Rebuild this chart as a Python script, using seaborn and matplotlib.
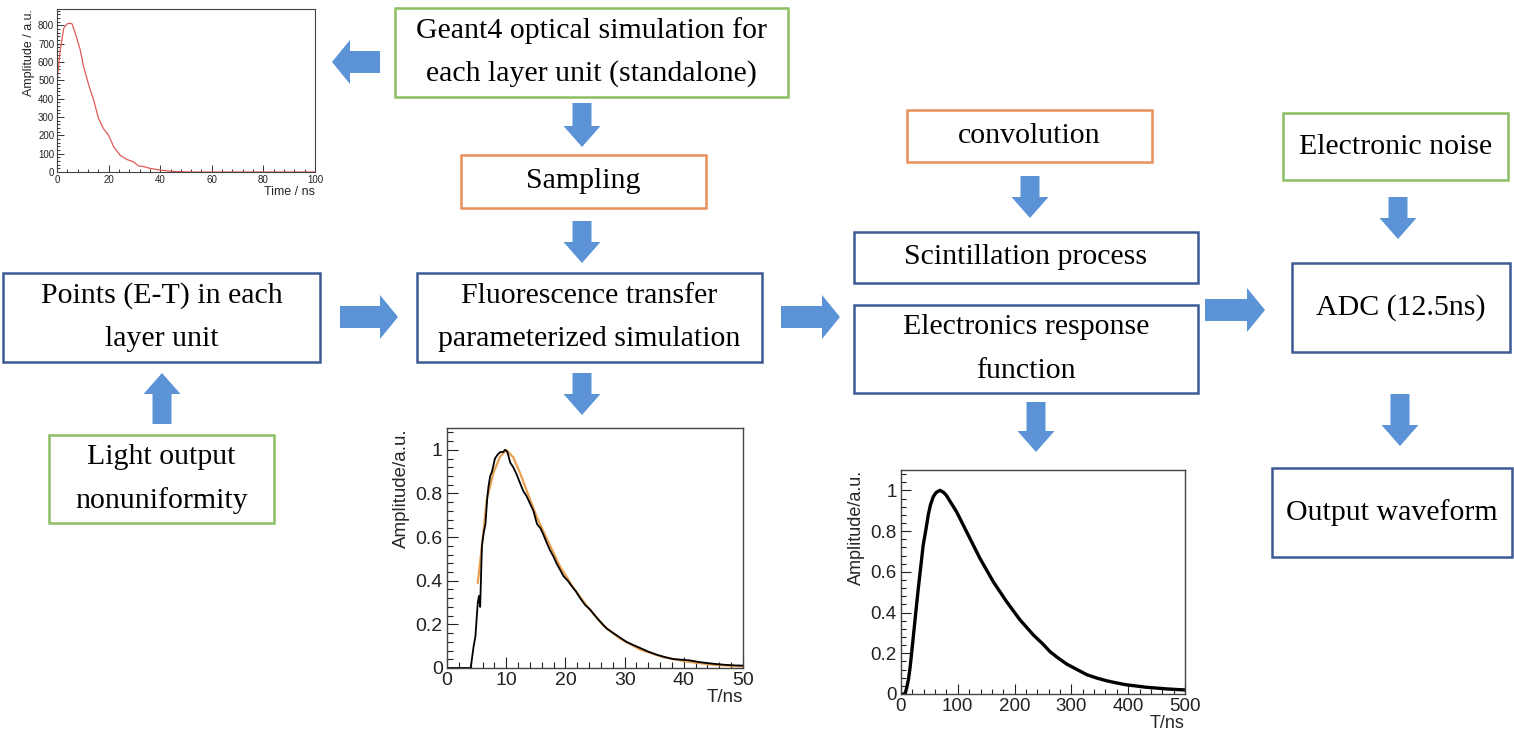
import numpy as np
import pandas as pd
import matplotlib
matplotlib.use("Agg")
import matplotlib.pyplot as plt
import seaborn as sns
from matplotlib.patches import Rectangle, Polygon
from matplotlib.ticker import AutoMinorLocator, MultipleLocator

# ---------------- data ----------------
# Geant4 optical simulation pulse (top-left inset)
g4_time = [0, 1.3, 2.6, 3.9, 5.0, 5.8, 7.1, 9.0, 10.3, 12.3, 14.2, 16.1, 18.0,
           20.0, 22.0, 24.5, 27.0, 29.7, 31.6, 33.5, 36.0, 40.0, 45.0, 50.0,
           52.0, 60.0, 80.0, 100.0]
g4_amp = [500, 667, 785, 809, 812, 809, 758, 667, 575, 475, 393, 292, 237,
          200, 137, 91, 69, 55, 33, 30, 20, 10, 3, 1, 0, 0, 0, 0]

# Fluorescence transfer parameterized simulation (middle inset)
fl_sim_time = [0, 4.0, 4.5, 4.8, 5.2, 5.4, 5.6, 5.9, 6.2, 6.5, 6.8, 7.0, 7.3,
               7.6, 8.1, 8.6, 9.0, 9.5, 9.8, 10.2, 10.7, 11.2, 11.8, 12.3,
               12.9, 13.4, 14.0, 14.6, 15.2, 15.8, 16.3, 16.9, 17.4, 18.0,
               18.5, 19.1, 19.7, 20.4, 21.1, 21.8, 22.5, 23.3, 24.2, 25.0,
               25.8, 27.0, 28.1, 29.2, 30.3, 31.5, 32.6, 34.0, 35.4, 36.8,
               38.2, 39.6, 41.0, 42.4, 43.8, 45.5, 47.2, 48.6, 50.0]
fl_sim_amp = [0, 0, 0.10, 0.145, 0.30, 0.33, 0.28, 0.56, 0.62, 0.66, 0.78,
              0.83, 0.88, 0.90, 0.96, 0.98, 0.99, 0.99, 1.0, 0.99, 0.94, 0.92,
              0.885, 0.85, 0.81, 0.79, 0.755, 0.72, 0.66, 0.64, 0.61, 0.57,
              0.54, 0.51, 0.48, 0.45, 0.42, 0.40, 0.374, 0.35, 0.32, 0.29,
              0.267, 0.24, 0.215, 0.18, 0.16, 0.14, 0.12, 0.105, 0.092, 0.075,
              0.061, 0.05, 0.041, 0.038, 0.035, 0.028, 0.023, 0.018, 0.014,
              0.012, 0.011]
fl_fit_time = [5.2, 5.9, 6.7, 7.9, 9.0, 10.0, 11.2, 12.4, 13.5, 15.2, 16.9,
               19.1, 21.3, 23.6, 26.4, 29.2, 32.6, 36.5, 40.4, 44.9, 50.0]
fl_fit_amp = [0.39, 0.56, 0.77, 0.90, 0.97, 1.0, 0.965, 0.89, 0.81, 0.69,
              0.59, 0.465, 0.37, 0.285, 0.195, 0.135, 0.085, 0.05, 0.03,
              0.015, 0.007]

# Electronics response function (right inset)
er_time = [0, 7, 10, 13, 16, 19, 22, 26, 30.5, 35, 39, 44, 48, 52, 57, 62,
           68.7, 75, 80, 90, 98, 115.6, 139, 162.5, 186, 209.5, 233, 250,
           262, 275, 291.7, 310, 327, 345, 362, 380, 397, 415, 432, 450, 468,
           485, 500]
er_amp = [0, 0, 0.03, 0.07, 0.13, 0.21, 0.29, 0.40, 0.52, 0.63, 0.73, 0.81,
          0.88, 0.93, 0.97, 0.99, 1.0, 0.99, 0.975, 0.93, 0.894, 0.796, 0.666,
          0.551, 0.453, 0.364, 0.29, 0.245, 0.209, 0.18, 0.147, 0.12, 0.095,
          0.078, 0.065, 0.054, 0.045, 0.039, 0.033, 0.029, 0.025, 0.022, 0.02]

# Flowchart labels
box_labels = {
    "geant4": ["Geant4 optical simulation for", "each layer unit (standalone)"],
    "sampling": ["Sampling"],
    "fluo": ["Fluorescence transfer", "parameterized simulation"],
    "points": ["Points (E-T) in each", "layer unit"],
    "light": ["Light output", "nonuniformity"],
    "conv": ["convolution"],
    "scint": ["Scintillation process"],
    "elec": ["Electronics response", "function"],
    "noise": ["Electronic noise"],
    "adc": ["ADC (12.5ns)"],
    "out": ["Output waveform"],
}

# ---------------- styling ----------------
W, H = 1514, 739
BLUE = "#3C5A96"
GREEN = "#8CBF64"
ORANGE = "#E8905A"
ARROW = "#5B93D6"
SERIF = ["Liberation Serif", "DejaVu Serif"]
SANS = ["Liberation Sans", "DejaVu Sans"]

sns.set_theme(style="white")
plt.rcParams["font.family"] = SANS

fig = plt.figure(figsize=(W / 100, H / 100), dpi=100)
fig.patch.set_facecolor("white")

bg = fig.add_axes([0, 0, 1, 1])
bg.set_xlim(0, W)
bg.set_ylim(H, 0)
bg.axis("off")

# box geometry: (x0, y0, x1, y1, color)
box_geom = {
    "geant4": (395, 8, 788, 97, GREEN),
    "sampling": (461, 155, 706, 208, ORANGE),
    "fluo": (417, 273, 762, 362, BLUE),
    "points": (3, 273, 320, 362, BLUE),
    "light": (49, 435, 274, 523, GREEN),
    "conv": (907, 110, 1152, 162, ORANGE),
    "scint": (854, 232, 1198, 283, BLUE),
    "elec": (854, 305, 1198, 393, BLUE),
    "noise": (1283, 113, 1508, 180, GREEN),
    "adc": (1292, 263, 1510, 352, BLUE),
    "out": (1272, 468, 1512, 557, BLUE),
}

for key, (x0, y0, x1, y1, col) in box_geom.items():
    bg.add_patch(Rectangle((x0, y0), x1 - x0, y1 - y0, fill=False,
                           edgecolor=col, linewidth=1.8))
    lines = box_labels[key]
    cy = (y0 + y1) / 2
    n = len(lines)
    for i, t in enumerate(lines):
        yy = cy + (i - (n - 1) / 2) * 43
        bg.text((x0 + x1) / 2, yy, t, ha="center", va="center",
                fontsize=21.5, family=SERIF, color="black")


def block_arrow(x0, y0, x1, y1, shaft=20, head=40, head_len=20):
    p0 = np.array([x0, y0], float)
    p1 = np.array([x1, y1], float)
    L = np.linalg.norm(p1 - p0)
    d = (p1 - p0) / L
    nrm = np.array([-d[1], d[0]])
    neck = p0 + d * (L - head_len)
    pts = [p0 + nrm * shaft / 2, neck + nrm * shaft / 2, neck + nrm * head / 2,
           p1, neck - nrm * head / 2, neck - nrm * shaft / 2, p0 - nrm * shaft / 2]
    bg.add_patch(Polygon(pts, closed=True, facecolor=ARROW, edgecolor="none"))


arrows = [
    (380, 62, 332, 62),
    (582, 103, 582, 147),
    (582, 221, 582, 263),
    (340, 317, 398, 317),
    (162, 424, 162, 373),
    (582, 373, 582, 415),
    (781, 317, 840, 317),
    (1030, 176, 1030, 218),
    (1036, 402, 1036, 452),
    (1205, 310, 1265, 310),
    (1398, 197, 1398, 239),
    (1400, 394, 1400, 446),
]
for a in arrows:
    vertical = a[0] == a[2]
    if vertical:
        block_arrow(*a, shaft=19, head=37, head_len=21)
    else:
        block_arrow(*a, shaft=22, head=44, head_len=18)


def inset(left, top, right, bottom):
    return fig.add_axes([left / W, 1 - bottom / H, (right - left) / W,
                         (bottom - top) / H])


def root_style(ax, tick_fs, major_len, lw=1.0, pad=3):
    ax.set_facecolor("white")
    for s in ax.spines.values():
        s.set_visible(True)
        s.set_color("#444444")
        s.set_linewidth(lw)
    ax.tick_params(which="both", direction="in", bottom=True, left=True,
                   top=False, right=False, labelsize=tick_fs,
                   colors="#222222", width=lw * 0.8, pad=pad)
    ax.tick_params(which="major", length=major_len)
    ax.tick_params(which="minor", length=major_len / 2)
    ax.xaxis.set_minor_locator(AutoMinorLocator(5))
    ax.yaxis.set_minor_locator(AutoMinorLocator(5))
    ax.grid(False)


# ---- top-left inset ----
ax1 = inset(57, 9, 315, 172)
sns.lineplot(x=g4_time, y=g4_amp, ax=ax1, color="#E05A5A", linewidth=0.9)
ax1.set_xlim(0, 100)
ax1.set_ylim(0, 890)
ax1.xaxis.set_major_locator(MultipleLocator(20))
ax1.yaxis.set_major_locator(MultipleLocator(100))
root_style(ax1, 7, 5, lw=0.8, pad=2)
ax1.set_xlabel("Time / ns", loc="right", fontsize=9, labelpad=1)
ax1.set_ylabel("Amplitude / a.u.", loc="top", fontsize=9, labelpad=2)

# ---- middle inset ----
ax2 = inset(447, 428, 743, 668)
sns.lineplot(x=fl_fit_time, y=fl_fit_amp, ax=ax2, color="#E8A050", linewidth=1.6)
sns.lineplot(x=fl_sim_time, y=fl_sim_amp, ax=ax2, color="black",
             linewidth=1.3)
ax2.set_xlim(0, 50)
ax2.set_ylim(0, 1.1)
ax2.xaxis.set_major_locator(MultipleLocator(10))
ax2.yaxis.set_major_locator(MultipleLocator(0.2))
root_style(ax2, 14, 8)
ax2.set_yticks([0, 0.2, 0.4, 0.6, 0.8, 1.0])
ax2.set_yticklabels(["0", "0.2", "0.4", "0.6", "0.8", "1"])
ax2.yaxis.set_minor_locator(AutoMinorLocator(5))
ax2.set_xlabel("T/ns", loc="right", fontsize=13.5, labelpad=0)
ax2.set_ylabel("Amplitude/a.u.", loc="top", fontsize=13.5, labelpad=4)

# ---- right inset ----
ax3 = inset(901, 470, 1185, 694)
sns.lineplot(x=er_time, y=er_amp, ax=ax3, color="black", linewidth=2.4)
ax3.set_xlim(0, 500)
ax3.set_ylim(0, 1.1)
ax3.xaxis.set_major_locator(MultipleLocator(100))
ax3.yaxis.set_major_locator(MultipleLocator(0.2))
root_style(ax3, 13.5, 7)
ax3.set_yticks([0, 0.2, 0.4, 0.6, 0.8, 1.0])
ax3.set_yticklabels(["0", "0.2", "0.4", "0.6", "0.8", "1"])
ax3.yaxis.set_minor_locator(AutoMinorLocator(5))
ax3.set_xlabel("T/ns", loc="right", fontsize=13, labelpad=0)
ax3.set_ylabel("Amplitude/a.u.", loc="top", fontsize=13, labelpad=4)

fig.savefig("out.png", dpi=100, facecolor="white")
